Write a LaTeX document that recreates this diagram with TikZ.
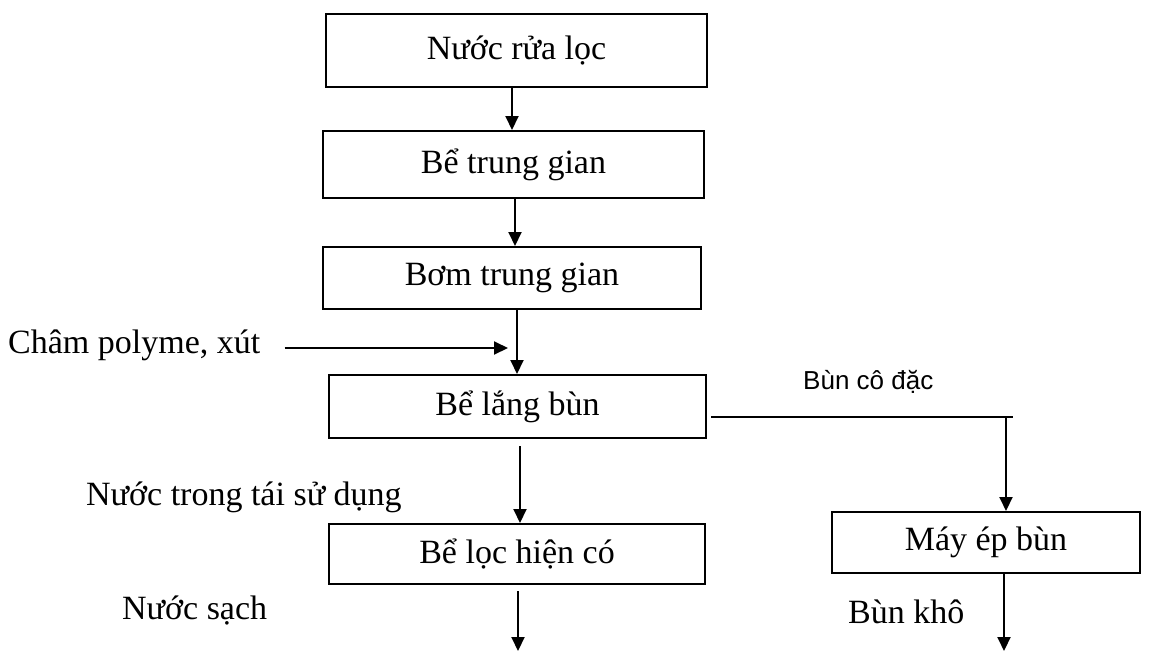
\documentclass[tikz,border=0pt]{standalone}
\usepackage{fontspec}
\setmainfont{Liberation Serif}
\newfontfamily\labelsans{Liberation Sans}
\usetikzlibrary{arrows.meta}

\begin{document}
\begin{tikzpicture}[x=1pt,y=-1pt,
  stagebox/.style={draw,line width=2pt,inner sep=0pt,
    font=\fontsize{34}{40}\selectfont},
  flow/.style={line width=2pt,-{Triangle[length=14pt,width=13pt]}},
  plain/.style={line width=2pt},
  caption/.style={inner sep=0pt,font=\fontsize{34}{40}\selectfont},
  smallcap/.style={inner sep=0pt,font=\labelsans\fontsize{26}{30}\selectfont}]
\useasboundingbox (0,0) rectangle (1151,651);

% process stages
\node[stagebox,minimum width=381pt,minimum height=73pt] (rua)   at (516.5,50.5) {Nước rửa lọc};
\node[stagebox,minimum width=381pt,minimum height=67pt] (betg)  at (513.5,164.5) {Bể trung gian};
\node[stagebox,minimum width=378pt,minimum height=62pt] (bomtg) at (512,278) {Bơm trung gian};
\node[stagebox,minimum width=377pt,minimum height=63pt] (lang)  at (517.5,406.5) {Bể lắng bùn};
\node[stagebox,minimum width=376pt,minimum height=60pt] (loc)   at (517,554) {Bể lọc hiện có};
\node[stagebox,minimum width=308pt,minimum height=61pt] (ep)    at (986,542.5) {Máy ép bùn};

% side labels
\node[caption,anchor=west] (cham)    at (8,345)   {Châm polyme, xút};
\node[caption,anchor=west] (trong)   at (86,497)  {Nước trong tái sử dụng};
\node[caption,anchor=west] (sach)    at (122,610) {Nước sạch};
\node[smallcap,anchor=west] (codac)  at (803,382) {Bùn cô đặc};
\node[caption,anchor=west] (kho)     at (848,612) {Bùn khô};

% main line
\draw[flow] ([xshift=-4.5pt]rua.south) -- ([xshift=-4.5pt]rua.south |- betg.north);
\draw[flow] ([xshift=1.5pt]betg.south) -- ([xshift=1.5pt]betg.south |- bomtg.north);
\draw[flow] ([xshift=5pt]bomtg.south) -- ([xshift=5pt]bomtg.south |- lang.north);
\coordinate (dose) at (508,348);
\draw[flow] ([xshift=24pt]cham.east |- dose) -- (dose);
\draw[flow] ([xshift=2.5pt,yshift=-7pt]lang.south) -- ([xshift=2.5pt]lang.south |- loc.north);
\coordinate (sachend) at (518,651);
\draw[flow] ([yshift=-6pt]loc.south -| sachend) -- (sachend);

% sludge branch
\coordinate (turn) at (1006,417);
\draw[plain] ([xshift=4pt]lang.east |- turn) -- ([xshift=7pt]turn);
\draw[flow] (turn) -- (turn |- ep.north);
\coordinate (khoend) at (1004,651);
\draw[flow] (ep.south -| khoend) -- (khoend);
\end{tikzpicture}
\end{document}
